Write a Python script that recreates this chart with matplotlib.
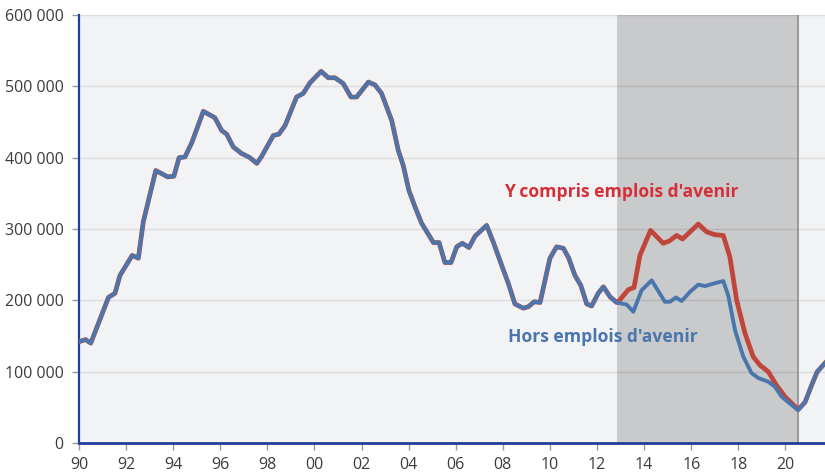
import numpy as np
import matplotlib
matplotlib.use("Agg")
import matplotlib.pyplot as plt
from matplotlib.ticker import FuncFormatter
from matplotlib.transforms import ScaledTranslation

plt.rcParams['font.family'] = ['Open Sans', 'DejaVu Sans']

# common part of both series (year, thousands)
common_years = [1990.0, 1990.28, 1990.5, 1991.25, 1991.53, 1991.74, 1992.26, 1992.52, 1992.73,
                1993.26, 1993.77, 1994.03, 1994.25, 1994.5, 1994.79, 1995.28, 1995.77, 1996.06,
                1996.27, 1996.55, 1996.9, 1997.26, 1997.55, 1997.76, 1998.25, 1998.49, 1998.75,
                1999.24, 1999.52, 1999.81, 2000.28, 2000.59, 2000.87, 2001.22, 2001.55, 2001.79,
                2002.29, 2002.57, 2002.85, 2003.28, 2003.56, 2003.77, 2004.01, 2004.27, 2004.55,
                2005.05, 2005.29, 2005.54, 2005.8, 2006.04, 2006.28, 2006.56, 2006.82, 2007.31,
                2007.59, 2007.95, 2008.23, 2008.51, 2008.87, 2009.08, 2009.33, 2009.58, 2010.0,
                2010.28, 2010.57, 2010.8, 2011.06, 2011.31, 2011.56, 2011.77, 2012.05, 2012.27,
                2012.55, 2012.83]
common_vals = [142, 145, 140, 204, 210, 235, 263, 259, 310,
               382, 373, 374, 400, 401, 421, 465, 456, 438,
               433, 415, 406, 400, 392, 402, 431, 433, 445,
               485, 490, 505, 521, 512, 512, 504, 485, 485,
               506, 502, 490, 452, 410, 389, 354, 331, 308,
               281, 281, 253, 253, 275, 280, 274, 290, 305,
               282, 249, 224, 195, 189, 191, 198, 197, 259,
               275, 273, 259, 235, 221, 195, 192, 210, 219,
               205, 197]

# "Hors emplois d'avenir" from 2013 to mid-2020
hors_years = [2013.26, 2013.54, 2013.89, 2014.32, 2014.88, 2015.1, 2015.35, 2015.59, 2015.95,
              2016.3, 2016.58, 2017.0, 2017.36, 2017.57, 2017.86, 2018.21, 2018.56, 2018.85,
              2019.27, 2019.55, 2019.84, 2020.2, 2020.54]
hors_vals = [194, 184, 214, 228, 198, 198, 204, 199, 212,
             222, 220, 224, 227, 207, 158, 121, 98, 91,
             86, 79, 65, 55, 46]

# "Y compris emplois d'avenir" from 2013 to mid-2020
ycomp_years = [2012.9, 2013.33, 2013.57, 2013.82, 2014.27, 2014.81, 2015.06, 2015.38, 2015.63,
               2016.3, 2016.65, 2017.0, 2017.36, 2017.64, 2017.93, 2018.28, 2018.63, 2018.92,
               2019.27, 2019.62, 2019.98, 2020.54]
ycomp_vals = [198, 215, 218, 263, 298, 280, 283, 291, 286,
              307, 296, 292, 291, 261, 200, 154, 121, 109,
              100, 81, 65, 47]

# after mid-2020, both series again identical
tail_years = [2020.83, 2021.1, 2021.35, 2021.68]
tail_vals = [57, 80, 100, 112]

shade_start, shade_end = 2012.85, 2020.53
xtick_years = list(range(1990, 2021, 2))
xtick_labels = ["%02d" % (y % 100) for y in xtick_years]

red = '#c0453a'
blue = '#4a76ad'

x_red = np.array(common_years + ycomp_years + tail_years)
y_red = np.array(common_vals + ycomp_vals + tail_vals) * 1000
x_blue = np.array(common_years + hors_years + tail_years)
y_blue = np.array(common_vals + hors_vals + tail_vals) * 1000

fig = plt.figure(figsize=(8.25, 4.75), dpi=100)
ax = fig.add_axes([79 / 825, 32 / 475, 746 / 825, 428 / 475])
ax.set_facecolor('#f2f3f5')

ax.set_xlim(1990, 2021.68)
ax.set_ylim(0, 600000)

ax.set_yticks(range(0, 600001, 100000))
ax.yaxis.set_major_formatter(FuncFormatter(lambda v, p: "{:,}".format(int(v)).replace(",", " ")))
ax.set_xticks(xtick_years)
ax.set_xticklabels(xtick_labels)
for lab in ax.get_xticklabels():
    lab.set_transform(lab.get_transform() + ScaledTranslation(3.5 / 100, 0, fig.dpi_scale_trans))

ax.grid(axis='y', color='#dcdcdc', lw=1)
ax.set_axisbelow(True)
ax.tick_params(axis='both', colors='#999999', labelcolor='#3c3c3c', labelsize=11.5, length=5, width=1)
ax.tick_params(axis='x', pad=5)
ax.tick_params(axis='y', pad=6)

for s in ['top', 'right']:
    ax.spines[s].set_visible(False)
ax.spines['left'].set_color('#1f3f99')
ax.spines['left'].set_linewidth(1.6)
ax.spines['bottom'].set_color('#1f3f99')
ax.spines['bottom'].set_linewidth(2)

ax.axvspan(shade_start, shade_end, color='black', alpha=0.17, lw=0, zorder=1)
ax.axvline(shade_end, color='#8c8c8c', lw=1.2, zorder=1.5)

ax.plot(x_red, y_red, color=red, lw=3.4, solid_joinstyle='round', zorder=3)
ax.plot(x_blue, y_blue, color=blue, lw=2.8, solid_joinstyle='round', zorder=4)

ax.text(2008.05, 352000, "Y compris emplois d'avenir", color='#d4303a', fontsize=12.6,
        fontweight='bold', va='center', ha='left', zorder=5)
ax.text(2008.2, 149000, "Hors emplois d'avenir", color=blue, fontsize=12.6,
        fontweight='bold', va='center', ha='left', zorder=5)

fig.savefig("out.png", dpi=100)
